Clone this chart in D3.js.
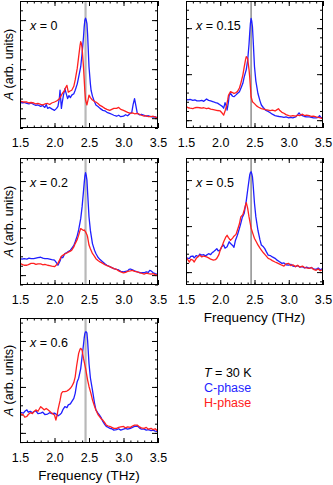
<!DOCTYPE html>
<html>
<head>
<meta charset="utf-8">
<script src="https://cdn.jsdelivr.net/npm/d3@7"></script>
<style>
  body { margin: 0; background: #fff; }
  svg text { font-family: "Liberation Sans", Arial, sans-serif; }
</style>
</head>
<body>
<div id="chart"></div>
<script>
// Spektrit: [taajuus (THz), amplitudi (mv. yksikkö)]
var c00 = [[1.50,.33],[1.53,.31],[1.56,.32],[1.60,.30],[1.63,.29],[1.66,.31],[1.70,.28],[1.73,.26],[1.76,.27],[1.80,.24],[1.83,.26],[1.86,.22],[1.88,.28],[1.90,.20],[1.93,.22],[1.96,.19],[2.00,.16],[2.03,.20],[2.05,.24],[2.07,.40],[2.08,.57],[2.10,.20],[2.11,.30],[2.13,.47],[2.15,.60],[2.17,.50],[2.19,.40],[2.21,.46],[2.23,.42],[2.25,.47],[2.28,.50],[2.30,.57],[2.33,.70],[2.35,.84],[2.38,1.05],[2.40,1.32],[2.42,1.65],[2.43,1.86],[2.44,2.00],[2.45,2.04],[2.46,2.00],[2.47,1.93],[2.48,1.70],[2.50,1.05],[2.52,.70],[2.53,.57],[2.55,.45],[2.57,.37],[2.60,.27],[2.63,.24],[2.66,.20],[2.70,.16],[2.73,.15],[2.76,.12],[2.80,.10],[2.83,.08],[2.86,.06],[2.90,.04],[2.93,.06],[2.96,.03],[3.00,.04],[3.03,.07],[3.06,.05],[3.10,.10],[3.12,.12],[3.14,.28],[3.16,.40],[3.18,.25],[3.20,.10],[3.23,.07],[3.26,.08],[3.30,.06],[3.33,.04],[3.36,.05],[3.40,.03],[3.43,.02],[3.46,.03],[3.50,0]];
var h00 = [[1.50,.35],[1.53,.34],[1.56,.33],[1.60,.33],[1.63,.31],[1.66,.32],[1.70,.31],[1.73,.29],[1.76,.30],[1.80,.28],[1.83,.27],[1.86,.29],[1.90,.30],[1.93,.28],[1.96,.31],[2.00,.33],[2.03,.35],[2.06,.38],[2.08,.42],[2.10,.47],[2.12,.52],[2.14,.55],[2.16,.62],[2.18,.67],[2.20,.53],[2.22,.55],[2.25,.57],[2.28,.65],[2.30,.78],[2.33,1.02],[2.35,1.25],[2.37,1.48],[2.38,1.56],[2.39,1.52],[2.40,1.43],[2.42,1.05],[2.44,.55],[2.45,.37],[2.47,.27],[2.49,.40],[2.50,.47],[2.52,.42],[2.55,.37],[2.58,.34],[2.60,.33],[2.63,.30],[2.66,.26],[2.70,.23],[2.73,.20],[2.76,.18],[2.80,.16],[2.83,.18],[2.86,.20],[2.90,.20],[2.93,.22],[2.96,.18],[3.00,.16],[3.03,.14],[3.06,.12],[3.10,.10],[3.13,.11],[3.16,.09],[3.20,.10],[3.23,.08],[3.26,.06],[3.30,.04],[3.33,.05],[3.36,.03],[3.40,.03],[3.43,.04],[3.46,.02],[3.50,.01]];

var c15 = [[1.50,.45],[1.53,.44],[1.56,.45],[1.60,.43],[1.63,.44],[1.66,.42],[1.70,.42],[1.73,.43],[1.76,.41],[1.80,.46],[1.83,.43],[1.86,.42],[1.90,.40],[1.93,.38],[1.96,.37],[2.00,.33],[2.03,.30],[2.05,.26],[2.07,.38],[2.09,.30],[2.10,.22],[2.12,.40],[2.13,.54],[2.15,.58],[2.18,.52],[2.20,.51],[2.23,.55],[2.25,.58],[2.28,.62],[2.30,.69],[2.33,.80],[2.35,.94],[2.38,1.10],[2.40,1.30],[2.42,1.65],[2.43,1.89],[2.44,2.10],[2.45,2.21],[2.46,2.15],[2.47,2.03],[2.48,1.75],[2.50,1.16],[2.52,.85],[2.55,.58],[2.58,.42],[2.60,.33],[2.63,.27],[2.66,.22],[2.70,.19],[2.73,.16],[2.76,.13],[2.80,.10],[2.83,.09],[2.86,.08],[2.90,.07],[2.93,.06],[2.96,.07],[3.00,.05],[3.03,.06],[3.06,.05],[3.10,.07],[3.13,.12],[3.15,.16],[3.17,.12],[3.20,.10],[3.23,.08],[3.26,.07],[3.30,.07],[3.33,.06],[3.36,.05],[3.40,.05],[3.43,.06],[3.45,.10],[3.47,.06],[3.50,.05]];
var h15 = [[1.50,.30],[1.53,.27],[1.56,.26],[1.60,.25],[1.63,.27],[1.66,.28],[1.70,.27],[1.73,.26],[1.76,.27],[1.80,.25],[1.83,.26],[1.86,.24],[1.90,.23],[1.93,.22],[1.96,.21],[2.00,.20],[2.03,.15],[2.05,.11],[2.07,.20],[2.09,.30],[2.11,.45],[2.12,.54],[2.15,.62],[2.18,.60],[2.20,.58],[2.23,.60],[2.25,.62],[2.28,.70],[2.30,.80],[2.33,.98],[2.35,1.16],[2.37,1.32],[2.38,1.38],[2.40,1.34],[2.42,1.10],[2.43,.94],[2.45,.51],[2.47,.40],[2.50,.36],[2.53,.31],[2.56,.28],[2.60,.25],[2.63,.24],[2.66,.23],[2.70,.22],[2.73,.21],[2.76,.22],[2.80,.20],[2.83,.23],[2.85,.25],[2.87,.21],[2.90,.17],[2.93,.15],[2.96,.12],[3.00,.10],[3.03,.09],[3.06,.10],[3.10,.09],[3.13,.11],[3.16,.10],[3.20,.13],[3.23,.10],[3.26,.11],[3.30,.10],[3.33,.08],[3.36,.09],[3.40,.07],[3.43,.06],[3.46,.05],[3.50,.03]];

var c20 = [[1.50,.35],[1.53,.34],[1.56,.35],[1.60,.34],[1.63,.36],[1.66,.35],[1.70,.35],[1.73,.36],[1.76,.37],[1.80,.38],[1.83,.36],[1.86,.35],[1.90,.35],[1.93,.34],[1.96,.33],[2.00,.32],[2.03,.26],[2.05,.21],[2.08,.30],[2.10,.39],[2.12,.37],[2.15,.46],[2.18,.48],[2.20,.50],[2.23,.53],[2.25,.57],[2.28,.63],[2.30,.71],[2.33,.84],[2.35,.96],[2.38,1.20],[2.40,1.45],[2.42,1.78],[2.43,1.95],[2.44,2.10],[2.45,2.18],[2.46,2.12],[2.47,2.02],[2.48,1.75],[2.50,1.24],[2.52,.95],[2.55,.67],[2.58,.53],[2.60,.46],[2.63,.38],[2.66,.33],[2.70,.28],[2.73,.24],[2.76,.21],[2.80,.18],[2.83,.16],[2.86,.14],[2.90,.12],[2.93,.11],[2.96,.08],[3.00,.07],[3.03,.08],[3.06,.09],[3.08,.12],[3.10,.13],[3.13,.11],[3.16,.09],[3.20,.07],[3.23,.06],[3.26,.05],[3.30,.05],[3.33,.07],[3.36,.06],[3.38,.10],[3.40,.09],[3.43,.05],[3.46,.03],[3.50,.01]];
var h20 = [[1.50,.25],[1.53,.23],[1.56,.21],[1.60,.21],[1.63,.23],[1.66,.25],[1.70,.25],[1.73,.23],[1.76,.24],[1.80,.24],[1.83,.22],[1.86,.23],[1.90,.21],[1.93,.20],[1.96,.19],[2.00,.18],[2.03,.22],[2.05,.25],[2.08,.34],[2.10,.40],[2.13,.43],[2.15,.45],[2.18,.47],[2.20,.49],[2.23,.51],[2.25,.53],[2.28,.60],[2.30,.67],[2.33,.76],[2.35,.85],[2.37,.95],[2.38,.99],[2.40,.97],[2.42,.95],[2.43,.96],[2.45,.92],[2.47,.86],[2.48,.81],[2.50,.64],[2.52,.56],[2.55,.46],[2.58,.40],[2.60,.35],[2.63,.31],[2.66,.28],[2.70,.25],[2.73,.22],[2.76,.20],[2.80,.18],[2.83,.16],[2.86,.14],[2.90,.12],[2.93,.09],[2.96,.07],[3.00,.05],[3.03,.06],[3.06,.08],[3.10,.09],[3.13,.10],[3.16,.08],[3.20,.07],[3.23,.05],[3.26,.04],[3.30,.02],[3.33,.04],[3.36,.03],[3.40,.02],[3.43,.03],[3.46,.01],[3.50,0]];

var c50 = [[1.50,.33],[1.52,.30],[1.55,.30],[1.57,.34],[1.60,.35],[1.62,.31],[1.65,.36],[1.68,.34],[1.70,.39],[1.73,.37],[1.76,.38],[1.78,.35],[1.80,.37],[1.83,.40],[1.86,.38],[1.88,.42],[1.90,.44],[1.93,.48],[1.95,.51],[1.97,.46],[2.00,.48],[2.02,.55],[2.05,.59],[2.07,.52],[2.10,.55],[2.13,.66],[2.15,.62],[2.18,.58],[2.20,.54],[2.22,.68],[2.25,.80],[2.28,.95],[2.30,1.06],[2.32,1.18],[2.35,1.28],[2.38,1.55],[2.40,1.78],[2.42,2.00],[2.43,2.11],[2.44,2.16],[2.45,2.18],[2.46,2.14],[2.47,2.07],[2.48,1.90],[2.50,1.49],[2.52,1.20],[2.55,.91],[2.58,.70],[2.60,.59],[2.63,.55],[2.65,.51],[2.67,.45],[2.70,.37],[2.73,.36],[2.76,.33],[2.80,.30],[2.83,.26],[2.86,.23],[2.90,.19],[2.93,.20],[2.96,.16],[3.00,.15],[3.03,.17],[3.06,.13],[3.10,.12],[3.13,.14],[3.16,.11],[3.20,.12],[3.23,.09],[3.26,.11],[3.30,.08],[3.33,.10],[3.36,.07],[3.40,.06],[3.43,.09],[3.46,.05],[3.50,.08]];
var h50 = [[1.50,.32],[1.52,.28],[1.55,.22],[1.57,.28],[1.60,.26],[1.62,.22],[1.65,.30],[1.68,.34],[1.70,.37],[1.73,.33],[1.76,.35],[1.80,.33],[1.83,.31],[1.86,.28],[1.90,.26],[1.93,.27],[1.95,.30],[1.98,.38],[2.00,.48],[2.03,.58],[2.05,.66],[2.08,.76],[2.10,.80],[2.12,.75],[2.15,.69],[2.18,.74],[2.20,.78],[2.23,.82],[2.25,.91],[2.28,1.05],[2.30,1.20],[2.33,1.25],[2.35,1.35],[2.37,1.46],[2.38,1.51],[2.40,1.39],[2.42,1.20],[2.45,.96],[2.48,.82],[2.50,.73],[2.53,.65],[2.55,.59],[2.58,.52],[2.60,.48],[2.63,.42],[2.66,.37],[2.70,.30],[2.73,.28],[2.76,.25],[2.80,.22],[2.83,.20],[2.86,.18],[2.90,.15],[2.93,.13],[2.96,.18],[3.00,.19],[3.03,.14],[3.06,.16],[3.10,.12],[3.13,.15],[3.16,.11],[3.20,.13],[3.23,.10],[3.26,.09],[3.30,.08],[3.33,.10],[3.36,.06],[3.40,.04],[3.43,.07],[3.46,.03],[3.50,.06]];

var c60 = [[1.50,.46],[1.52,.44],[1.55,.43],[1.57,.47],[1.60,.50],[1.62,.45],[1.65,.47],[1.68,.44],[1.70,.46],[1.73,.48],[1.76,.42],[1.80,.43],[1.83,.45],[1.86,.40],[1.90,.41],[1.93,.44],[1.96,.42],[2.00,.43],[2.03,.40],[2.05,.37],[2.08,.40],[2.10,.43],[2.12,.50],[2.15,.57],[2.18,.55],[2.20,.61],[2.23,.63],[2.25,.68],[2.28,.75],[2.30,.86],[2.32,1.05],[2.33,1.12],[2.35,1.19],[2.38,1.40],[2.40,1.66],[2.42,1.92],[2.43,2.06],[2.44,2.16],[2.45,2.20],[2.46,2.20],[2.47,2.17],[2.48,2.00],[2.50,1.51],[2.52,1.20],[2.55,.93],[2.58,.65],[2.60,.50],[2.63,.43],[2.65,.39],[2.68,.32],[2.70,.25],[2.73,.18],[2.75,.14],[2.78,.12],[2.80,.10],[2.83,.09],[2.86,.06],[2.90,.07],[2.93,.09],[2.96,.06],[3.00,.08],[3.03,.10],[3.06,.08],[3.10,.10],[3.13,.12],[3.16,.14],[3.20,.15],[3.23,.11],[3.26,.08],[3.30,.08],[3.33,.06],[3.36,.07],[3.40,.05],[3.43,.06],[3.46,.04],[3.50,.03]];
var h60 = [[1.50,.43],[1.52,.41],[1.55,.39],[1.57,.34],[1.60,.36],[1.62,.40],[1.65,.44],[1.68,.42],[1.70,.46],[1.73,.50],[1.76,.47],[1.78,.52],[1.80,.57],[1.83,.53],[1.85,.50],[1.88,.53],[1.90,.51],[1.93,.47],[1.96,.43],[2.00,.39],[2.02,.28],[2.04,.40],[2.05,.50],[2.08,.70],[2.10,.86],[2.12,.90],[2.15,.90],[2.18,.91],[2.20,.93],[2.23,.97],[2.25,1.01],[2.28,1.10],[2.30,1.22],[2.32,1.45],[2.35,1.73],[2.37,1.82],[2.38,1.84],[2.39,1.82],[2.40,1.80],[2.42,1.62],[2.45,1.41],[2.48,1.15],[2.50,1.01],[2.53,.85],[2.55,.72],[2.58,.58],[2.60,.50],[2.63,.40],[2.65,.36],[2.68,.30],[2.70,.28],[2.73,.22],[2.75,.17],[2.78,.15],[2.80,.14],[2.83,.12],[2.86,.10],[2.90,.10],[2.93,.12],[2.96,.13],[3.00,.14],[3.03,.11],[3.06,.13],[3.10,.12],[3.13,.15],[3.16,.17],[3.20,.17],[3.23,.13],[3.26,.11],[3.30,.10],[3.33,.12],[3.36,.08],[3.40,.10],[3.43,.07],[3.46,.09],[3.50,.03]];

var panelLabels = ["0", "0.15", "0.2", "0.5", "0.6"];
var cPhase = [c00, c15, c20, c50, c60];
var hPhase = [h00, h15, h20, h50, h60];
var xTicks = [1.5, 2.0, 2.5, 3.0, 3.5];
var peakFreq = 2.45;
var legendLines = ["C-phase", "H-phase"];

// Paneelien sijainnit ja y-akselin alueet
var panels = [
  { x0: 20,  x1: 158, y0: 1,   y1: 128, yd: [-0.20, 2.39], lightLine: true,  xTitle: false },
  { x0: 186, x1: 323, y0: 1,   y1: 128, yd: [-0.17, 2.59], lightLine: false, xTitle: false },
  { x0: 20,  x1: 158, y0: 158, y1: 285, yd: [-0.21, 2.49], lightLine: true,  xTitle: false },
  { x0: 186, x1: 323, y0: 158, y1: 285, yd: [-0.28, 2.48], lightLine: false, xTitle: true },
  { x0: 20,  x1: 158, y0: 318, y1: 443, yd: [-0.22, 2.50], lightLine: true,  xTitle: true }
];

var width = 333, height = 485;
var blue = "#1f1fff", red = "#ff2020";

var svg = d3.select("#chart").append("svg")
  .attr("width", width)
  .attr("height", height);

var defs = svg.append("defs");

panels.forEach(function(p, i) {
  var x = d3.scaleLinear().domain([1.5, 3.5]).range([p.x0, p.x1]);
  var y = d3.scaleLinear().domain(p.yd).range([p.y1, p.y0]);

  var g = svg.append("g");

  defs.append("clipPath").attr("id", "clip" + i)
    .append("rect")
    .attr("x", p.x0).attr("y", p.y0)
    .attr("width", p.x1 - p.x0).attr("height", p.y1 - p.y0);

  var minorX = d3.range(15, 36).map(function(d) { return d / 10; });
  var minorY = d3.range(Math.ceil(p.yd[0] * 5), Math.floor(p.yd[1] * 5) + 1).map(function(d) { return d / 5; });
  var majorY = d3.range(Math.ceil(p.yd[0]), Math.floor(p.yd[1]) + 1);

  // pienet jaotusviivat
  g.append("g").attr("transform", "translate(0," + p.y1 + ")")
    .call(d3.axisBottom(x).tickValues(minorX).tickSize(-2.5).tickFormat(""));
  g.append("g").attr("transform", "translate(0," + p.y0 + ")")
    .call(d3.axisTop(x).tickValues(minorX).tickSize(-2.5).tickFormat(""));
  g.append("g").attr("transform", "translate(" + p.x0 + ",0)")
    .call(d3.axisLeft(y).tickValues(minorY).tickSize(-3).tickFormat(""));
  g.append("g").attr("transform", "translate(" + p.x1 + ",0)")
    .call(d3.axisRight(y).tickValues(minorY).tickSize(-3).tickFormat(""));

  // isot jaotusviivat
  var bottomAxis = g.append("g").attr("transform", "translate(0," + p.y1 + ")")
    .call(d3.axisBottom(x).tickValues(xTicks).tickSize(-5).tickPadding(10).tickFormat(d3.format(".1f")));
  g.append("g").attr("transform", "translate(0," + p.y0 + ")")
    .call(d3.axisTop(x).tickValues(xTicks).tickSize(-5).tickFormat(""));
  g.append("g").attr("transform", "translate(" + p.x0 + ",0)")
    .call(d3.axisLeft(y).tickValues(majorY).tickSize(-6).tickFormat(""));
  g.append("g").attr("transform", "translate(" + p.x1 + ",0)")
    .call(d3.axisRight(y).tickValues(majorY).tickSize(-6).tickFormat(""));

  g.selectAll(".domain").remove();
  g.selectAll(".tick line").attr("stroke", "#000").attr("stroke-width", 1);
  bottomAxis.selectAll("text")
    .attr("font-size", 12.5)
    .attr("font-family", "Liberation Sans, Arial, sans-serif")
    .attr("fill", "#000");

  // piikin kohta
  g.append("line")
    .attr("x1", x(peakFreq)).attr("x2", x(peakFreq))
    .attr("y1", p.y0).attr("y2", p.y1)
    .attr("stroke", p.lightLine ? "#b8b8b8" : "#555")
    .attr("stroke-width", p.lightLine ? 2.2 : 1);

  var line = d3.line()
    .x(function(d) { return x(d[0]); })
    .y(function(d) { return y(d[1]); });

  var curves = g.append("g").attr("clip-path", "url(#clip" + i + ")");
  curves.append("path").datum(cPhase[i])
    .attr("d", line).attr("fill", "none")
    .attr("stroke", blue).attr("stroke-width", 1.3).attr("stroke-linejoin", "round");
  curves.append("path").datum(hPhase[i])
    .attr("d", line).attr("fill", "none")
    .attr("stroke", red).attr("stroke-width", 1.3).attr("stroke-linejoin", "round");

  // kehys
  g.append("rect")
    .attr("x", p.x0 + 0.5).attr("y", p.y0 + 0.5)
    .attr("width", p.x1 - p.x0 - 1).attr("height", p.y1 - p.y0 - 1)
    .attr("fill", "none").attr("stroke", "#000").attr("stroke-width", 1);

  // x = ...
  var lab = g.append("text")
    .attr("x", p.x0 + 10).attr("y", p.y0 + 29)
    .attr("font-size", 12.5);
  lab.append("tspan").attr("font-style", "italic").text("x");
  lab.append("tspan").text(" = " + panelLabels[i]);

  // y-akselin otsikko vasemmalle sarakkeelle
  if (p.x0 < 100) {
    var yl = g.append("text")
      .attr("transform", "translate(" + (p.x0 - 7) + "," + ((p.y0 + p.y1) / 2) + ") rotate(-90)")
      .attr("text-anchor", "middle")
      .attr("font-size", 12.5);
    yl.append("tspan").attr("font-style", "italic").text("A");
    yl.append("tspan").text(" (arb. units)");
  }

  if (p.xTitle) {
    g.append("text")
      .attr("x", (p.x0 + p.x1) / 2).attr("y", p.y1 + 37)
      .attr("text-anchor", "middle")
      .attr("font-size", 13.5)
      .text("Frequency (THz)");
  }
});

// selite
var leg = svg.append("g").attr("font-size", 12.5);
var t = leg.append("text").attr("x", 204).attr("y", 377);
t.append("tspan").attr("font-style", "italic").text("T");
t.append("tspan").text(" = 30 K");
leg.append("text").attr("x", 204).attr("y", 392).attr("fill", blue).text(legendLines[0]);
leg.append("text").attr("x", 204).attr("y", 407).attr("fill", red).text(legendLines[1]);
</script>
</body>
</html>
